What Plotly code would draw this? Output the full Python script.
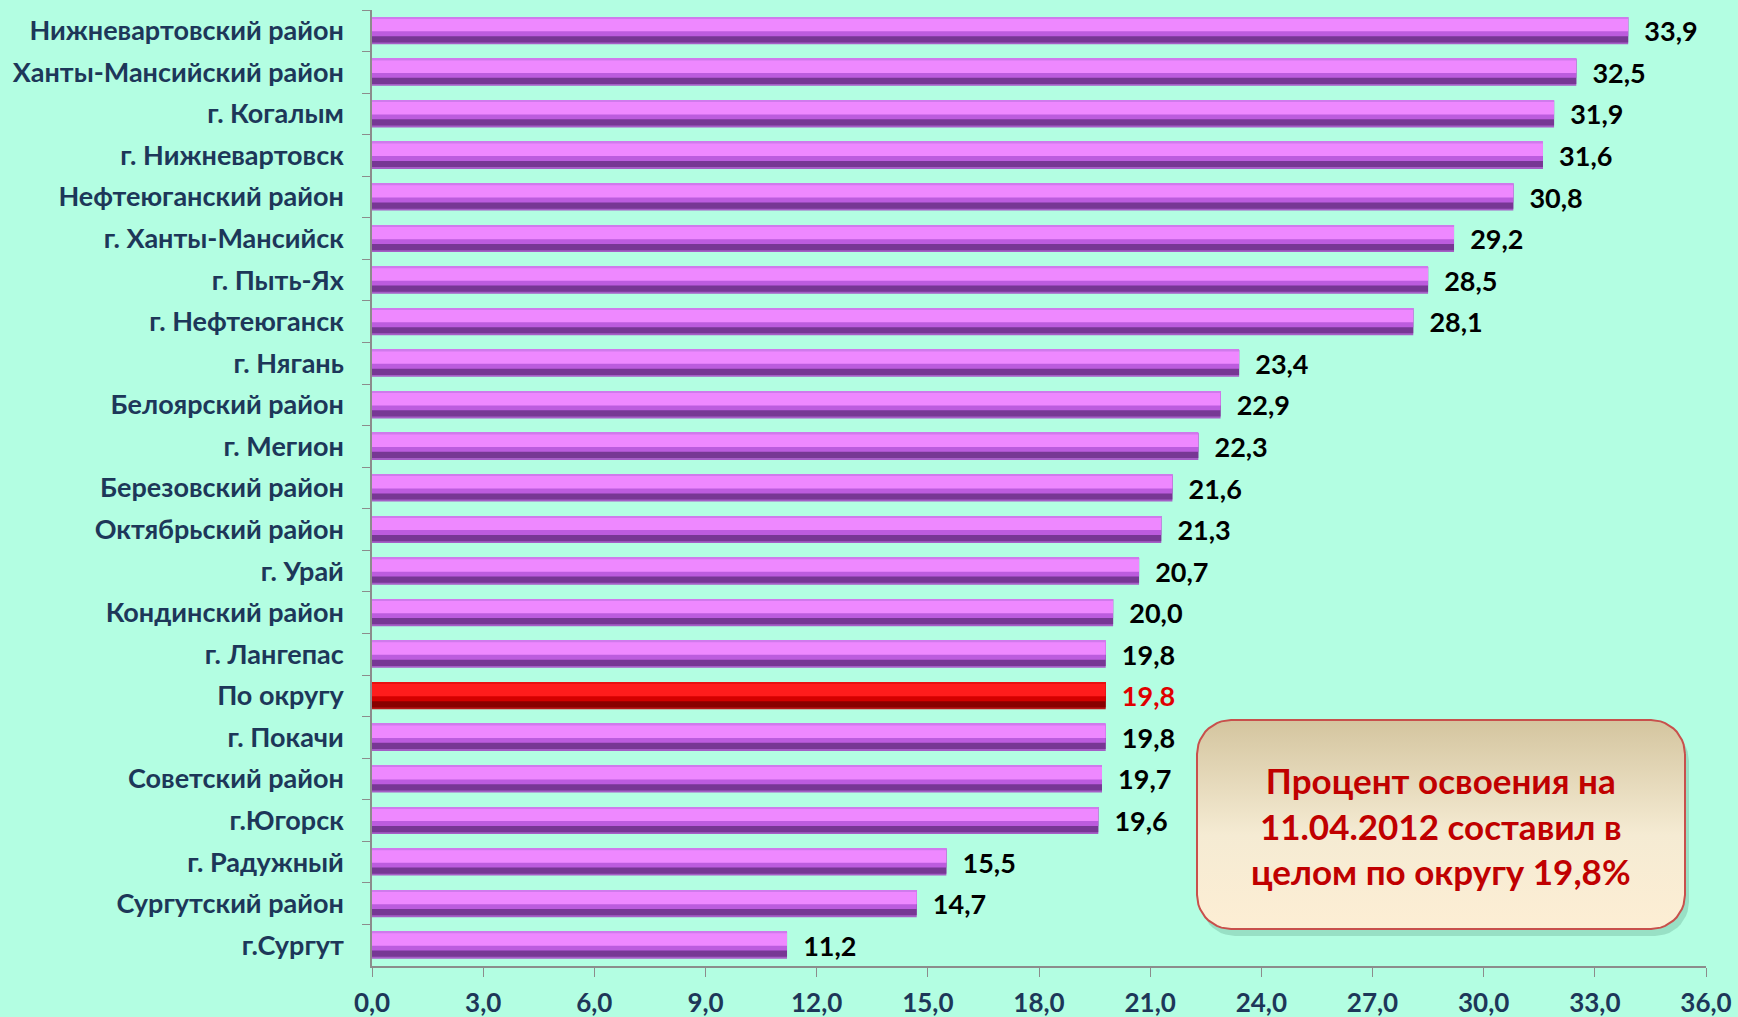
import numpy as np
import plotly.graph_objects as go

categories = ["Нижневартовский район", "Ханты-Мансийский район", "г. Когалым",
              "г. Нижневартовск", "Нефтеюганский район", "г. Ханты-Мансийск",
              "г. Пыть-Ях", "г. Нефтеюганск", "г. Нягань", "Белоярский район",
              "г. Мегион", "Березовский район", "Октябрьский район", "г. Урай",
              "Кондинский район", "г. Лангепас", "По округу", "г. Покачи",
              "Советский район", "г.Югорск", "г. Радужный", "Сургутский район",
              "г.Сургут"]
values = [33.9, 32.5, 31.9, 31.6, 30.8, 29.2, 28.5, 28.1, 23.4, 22.9, 22.3, 21.6,
          21.3, 20.7, 20.0, 19.8, 19.8, 19.8, 19.7, 19.6, 15.5, 14.7, 11.2]
highlight_category = "По округу"
x_ticks = [0, 3, 6, 9, 12, 15, 18, 21, 24, 27, 30, 33, 36]
note_text = "Процент освоения на<br>11.04.2012 составил в<br>целом по округу 19,8%"

BG = "#B3FEE2"
LABEL_COLOR = "#1D3759"
FONT = "Lato"
ML, MR, MT, MB = 372, 32, 10, 51

is_hl = [c == highlight_category for c in categories]
def pick(a, b):
    return [b if h else a for h in is_hl]

fig = go.Figure()
W = 0.65
START = -W / 2
layers = [
    # (fraction of bar height from top, purple, red)
    (1.00, "#A55EC6", "#B81818"),
    (0.93, "#773794", "#880000"),
    (0.70, "#BC5CDE", "#D40000"),
    (0.52, "#EE88FF", "#FF1C1C"),
    (0.06, "#D07AEC", "#E81010"),
]
for i, (frac, cp, cr) in enumerate(layers):
    if i == 0:
        kw = dict(texttemplate="\u00a0\u00a0%{x:.1f}", textposition="outside",
                  textfont=dict(family=FONT, size=27, weight="bold",
                                color=pick("#000000", "#E00000")),
                  cliponaxis=False, constraintext="none", hoverinfo="x+y")
    else:
        kw = dict(textposition="none", hoverinfo="skip")
    fig.add_trace(go.Bar(
        x=values, y=categories, orientation="h", width=W * frac, offset=START,
        marker=dict(color=pick(cp, cr), line=dict(width=0)),
        showlegend=False, **kw))

# Rounded note box (on overlay axes in unit coordinates)
plot_w, plot_h = 1738 - ML - MR, 1017 - MT - MB
bx0, bx1 = (1197 - ML) / plot_w, (1685 - ML) / plot_w
by1, by0 = 1 - (720 - MT) / plot_h, 1 - (929 - MT) / plot_h
rx, ry = 34 / plot_w, 34 / plot_h
def rounded(x0, x1, y0, y1, rx, ry, n=12):
    xs, ys = [], []
    corners = [(x1 - rx, y1 - ry, 0, 90), (x0 + rx, y1 - ry, 90, 180),
               (x0 + rx, y0 + ry, 180, 270), (x1 - rx, y0 + ry, 270, 360)]
    for cx, cy, a0, a1 in corners:
        for t in np.linspace(np.radians(a0), np.radians(a1), n):
            xs.append(cx + rx * np.cos(t)); ys.append(cy + ry * np.sin(t))
    xs.append(xs[0]); ys.append(ys[0])
    return xs, ys

sx, sy = rounded(bx0 + 4 / plot_w, bx1 + 4 / plot_w, by0 - 7 / plot_h, by1 - 7 / plot_h, rx, ry)
fig.add_trace(go.Scatter(x=sx, y=sy, xaxis="x2", yaxis="y2", mode="lines",
                         fill="toself", fillcolor="rgba(60,120,95,0.22)",
                         line=dict(width=0), hoverinfo="skip", showlegend=False))
bxs, bys = rounded(bx0, bx1, by0, by1, rx, ry)
fig.add_trace(go.Scatter(x=bxs, y=bys, xaxis="x2", yaxis="y2", mode="lines",
                         fill="toself",
                         fillgradient=dict(type="vertical",
                                           colorscale=[[0, "#FDEED4"], [0.45, "#F5EBD3"], [1, "#D4C59F"]]),
                         line=dict(width=2, color="#C8504C"),
                         hoverinfo="skip", showlegend=False))

fig.add_annotation(x=(bx0 + bx1) / 2, y=(by0 + by1) / 2 - 1 / plot_h,
                   xref="paper", yref="paper", xanchor="center", yanchor="middle",
                   text=note_text, showarrow=False, align="center",
                   font=dict(family=FONT, size=35, weight="bold", color="#C00000"))

fig.update_layout(
    width=1738, height=1017, autosize=False,
    margin=dict(l=ML, r=MR, t=MT, b=MB),
    paper_bgcolor=BG, plot_bgcolor=BG,
    barmode="overlay", separators=", ",
    xaxis=dict(range=[0, 36], tickvals=x_ticks, tickformat=".1f", automargin=False,
               showgrid=False, zeroline=False, showline=True, linecolor="#8C8C8C",
               linewidth=1.5, ticks="outside", ticklen=9, tickcolor="#8C8C8C",
               ticklabelstandoff=4,
               tickfont=dict(family=FONT, size=26, weight="bold", color=LABEL_COLOR)),
    yaxis=dict(autorange="reversed", categoryorder="array", categoryarray=categories,
               automargin=False,
               showgrid=False, zeroline=False, showline=True, linecolor="#8C8C8C",
               linewidth=1.5, ticks="outside", tickson="boundaries", ticklen=8,
               tickcolor="#8C8C8C", ticklabelstandoff=21,
               tickfont=dict(family=FONT, size=27, weight="bold", color=LABEL_COLOR)),
    xaxis2=dict(overlaying="x", range=[0, 1], visible=False, fixedrange=True),
    yaxis2=dict(overlaying="y", range=[0, 1], visible=False, fixedrange=True),
)

fig.write_html("out.html", config={"displayModeBar": False},
               post_script="document.body.style.margin='0px';document.body.style.overflow='hidden';")
